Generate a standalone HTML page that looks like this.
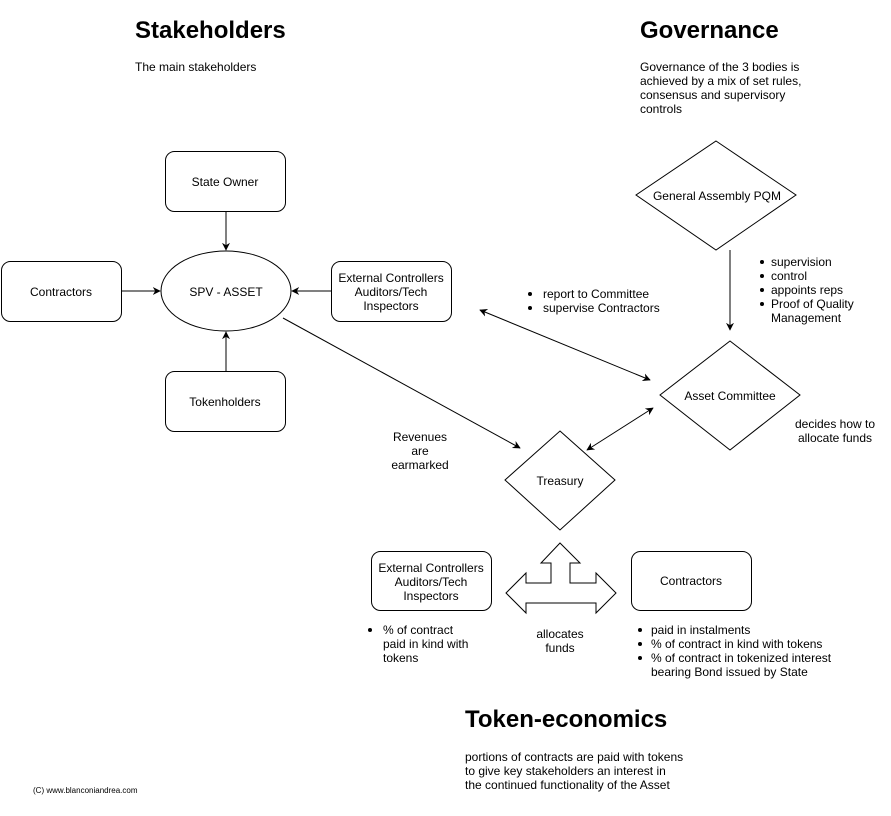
<!DOCTYPE html>
<html><head><style>
body{margin:0;background:#fff;}
svg text{font-family:"Liberation Sans",Arial,sans-serif;}
</style></head><body>
<svg width="891" height="811" viewBox="0 0 891 811" xmlns="http://www.w3.org/2000/svg">
<defs>
<marker id="a" viewBox="0 0 10 10" refX="9" refY="5" markerWidth="8" markerHeight="8" orient="auto-start-reverse"><path d="M0,0 L10,5 L0,10 L3,5 z" fill="#000"/></marker>
</defs>
<rect width="891" height="811" fill="#fff"/>
<g font-size="12" fill="#000">
<text x="135" y="38" font-size="24" font-weight="bold">Stakeholders</text>
<text x="135" y="71">The main stakeholders</text>
<text x="640" y="38" font-size="24" font-weight="bold">Governance</text>
<text x="640" y="71">Governance of the 3 bodies is</text>
<text x="640" y="85">achieved by a mix of set rules,</text>
<text x="640" y="99">consensus and supervisory</text>
<text x="640" y="113">controls</text>
<text x="465" y="727" font-size="24" font-weight="bold">Token-economics</text>
<text x="465" y="761">portions of contracts are paid with tokens</text>
<text x="465" y="775">to give key stakeholders an interest in</text>
<text x="465" y="789">the continued functionality of the Asset</text>
<text x="33" y="793" font-size="8">(C) www.blanconiandrea.com</text>
</g>
<g fill="none" stroke="#000" stroke-width="1">
<rect x="165.5" y="151.5" width="120" height="60" rx="9"/>
<rect x="1.5" y="261.5" width="120" height="60" rx="9"/>
<ellipse cx="226" cy="291" rx="65" ry="40"/>
<rect x="331.5" y="261.5" width="120" height="60" rx="9"/>
<rect x="165.5" y="371.5" width="120" height="60" rx="9"/>
<path d="M716,141 L796,195 L716,250 L636,195 Z"/>
<path d="M730,341 L800,395 L730,450 L660,395 Z"/>
<path d="M560,431 L615,480 L560,530 L505,480 Z"/>
<rect x="371.5" y="551.5" width="120" height="59" rx="9"/>
<rect x="631.5" y="551.5" width="120" height="59" rx="9"/>
<path d="M560,543 L580,563 L570,563 L570,583 L596,583 L596,573 L616,593 L596,613 L596,603 L526,603 L526,613 L506,593 L526,573 L526,583 L551,583 L551,563 L541,563 Z"/>
</g>
<g stroke="#000" stroke-width="1" fill="none">
<line x1="226" y1="211" x2="226" y2="250" marker-end="url(#a)"/>
<line x1="226" y1="371" x2="226" y2="332" marker-end="url(#a)"/>
<line x1="121" y1="291" x2="160" y2="291" marker-end="url(#a)"/>
<line x1="331" y1="291" x2="292" y2="291" marker-end="url(#a)"/>
<line x1="730" y1="250" x2="730" y2="330" marker-end="url(#a)"/>
<line x1="283" y1="318" x2="520" y2="448" marker-end="url(#a)"/>
<line x1="480" y1="310" x2="650" y2="380" marker-start="url(#a)" marker-end="url(#a)"/>
<line x1="587" y1="450" x2="653" y2="408" marker-start="url(#a)" marker-end="url(#a)"/>
</g>
<g font-size="12" fill="#000" text-anchor="middle">
<text x="225" y="186">State Owner</text>
<text x="61" y="296">Contractors</text>
<text x="226" y="296">SPV - ASSET</text>
<text x="391" y="282">External Controllers</text>
<text x="391" y="296">Auditors/Tech</text>
<text x="391" y="310">Inspectors</text>
<text x="225" y="406">Tokenholders</text>
<text x="717" y="200">General Assembly PQM</text>
<text x="730" y="400">Asset Committee</text>
<text x="560" y="485">Treasury</text>
<text x="431" y="572">External Controllers</text>
<text x="431" y="586">Auditors/Tech</text>
<text x="431" y="600">Inspectors</text>
<text x="691" y="585">Contractors</text>
<text x="420" y="441">Revenues</text>
<text x="420" y="455">are</text>
<text x="420" y="469">earmarked</text>
<text x="835" y="428">decides how to</text>
<text x="835" y="442">allocate funds</text>
<text x="560" y="638">allocates</text>
<text x="560" y="652">funds</text>
</g>
<g font-size="12" fill="#000">
<circle cx="762" cy="262" r="2"/><text x="771" y="266">supervision</text>
<circle cx="762" cy="276" r="2"/><text x="771" y="280">control</text>
<circle cx="762" cy="290" r="2"/><text x="771" y="294">appoints reps</text>
<circle cx="762" cy="304" r="2"/><text x="771" y="308">Proof of Quality</text>
<text x="771" y="322">Management</text>
<circle cx="530" cy="294" r="2"/><text x="543" y="298">report to Committee</text>
<circle cx="530" cy="308" r="2"/><text x="543" y="312">supervise Contractors</text>
<circle cx="370" cy="630" r="2"/><text x="383" y="634">% of contract</text>
<text x="383" y="648">paid in kind with</text>
<text x="383" y="662">tokens</text>
<circle cx="640" cy="630" r="2"/><text x="651" y="634">paid in instalments</text>
<circle cx="640" cy="644" r="2"/><text x="651" y="648">% of contract in kind with tokens</text>
<circle cx="640" cy="658" r="2"/><text x="651" y="662">% of contract in tokenized interest</text>
<text x="651" y="676">bearing Bond issued by State</text>
</g>
</svg>
</body></html>
